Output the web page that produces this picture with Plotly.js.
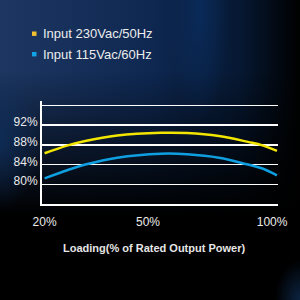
<!DOCTYPE html>
<html><head><meta charset="utf-8">
<script src="https://cdn.plot.ly/plotly-3.0.1.min.js"></script>
<style>
html,body{margin:0;padding:0;width:300px;height:300px;overflow:hidden;}
body{
 background:
  radial-gradient(ellipse 30px 110px at 200px 10px, rgba(10,45,95,0.8), rgba(10,45,95,0) 100%),
  radial-gradient(ellipse 25px 40px at 300px 300px, rgba(20,60,110,0.6), rgba(20,60,110,0) 100%),
  radial-gradient(ellipse 40px 70px at 0px 140px, rgba(15,50,100,0.7), rgba(15,50,100,0) 100%),
  linear-gradient(180deg, rgba(0,0,0,0) 0px, rgba(0,0,0,0) 70px, rgba(0,0,0,1) 215px),
  linear-gradient(90deg, #1d3762 0px, #0e2852 150px, #061832 240px, #000 300px);
}
#chart{width:300px;height:300px;}
</style></head>
<body><div id="chart"></div>
<script>
const seriesNames = ['Input 230Vac/50Hz', 'Input 115Vac/60Hz'];
const seriesColors = ['#f2e600', '#0f9fe0'];
const legendColors = ['#f2c12e', '#12a3e6'];
const loadPct = [20, 28, 34, 45, 60, 69, 80, 90, 95, 100];
const eff230 = [86.3, 87.9, 88.8, 89.9, 90.45, 90.4, 89.8, 88.6, 87.9, 86.8];
const eff115 = [81.2, 82.9, 84.0, 85.4, 86.2, 86.1, 85.4, 84.0, 83.2, 81.8];
const yTickVals = [80, 84, 88, 92, 96];
const yTickText = ['80%', '84%', '88%', '92%', ''];
const xTickText = ['20%', '50%', '100%'];
const xTitle = 'Loading(% of Rated Output Power)';

const effs = [eff230, eff115];
const traces = effs.map((e, i) => ({
  x: loadPct, y: e, type: 'scatter', mode: 'lines', name: seriesNames[i],
  line: {color: seriesColors[i], width: 2.5, shape: 'spline', smoothing: 1.1},
  showlegend: false, hoverinfo: 'none'
}));

const annotations = seriesNames.map((n, i) => ({
  text: n, xref: 'paper', yref: 'paper', x: (40.5 - 42) / 236, y: (204 - (33.7 + i * 20.5)) / 103,
  xanchor: 'left', yanchor: 'middle', showarrow: false,
  font: {family: 'Liberation Sans, Arial', size: 13, color: '#ececec'}
}));
annotations.push({
  text: xTitle, xref: 'paper', yref: 'paper', x: (154 - 42) / 236, y: (204 - 247.7) / 103,
  xanchor: 'center', yanchor: 'middle', showarrow: false,
  font: {family: 'Liberation Sans, Arial', size: 11, color: '#e6e6e6', weight: 'bold'}
});
const shapes = legendColors.map((c, i) => ({
  type: 'rect', xref: 'paper', yref: 'paper',
  x0: (32 - 42) / 236, x1: (36.5 - 42) / 236,
  y0: (204 - (33.7 + i * 20.5) - 2.2) / 103, y1: (204 - (33.7 + i * 20.5) + 2.2) / 103,
  fillcolor: c, line: {width: 0}
}));

const layout = {
  width: 300, height: 300,
  margin: {l: 42, r: 22, t: 101, b: 96},
  paper_bgcolor: 'rgba(0,0,0,0)', plot_bgcolor: 'rgba(0,0,0,0)',
  showlegend: false,
  xaxis: {
    range: [19.1, 100.35], tickvals: [20, 55.6, 98.3], ticktext: xTickText,
    showgrid: false, zeroline: false, showline: true, linecolor: '#ffffff', linewidth: 2,
    ticks: '', ticklen: 0, ticklabelstandoff: 6,
    tickfont: {family: 'Liberation Sans, Arial', size: 12, color: '#ececec'},
    fixedrange: true
  },
  yaxis: {
    range: [76, 96.9], tickvals: yTickVals, ticktext: yTickText,
    showgrid: true, gridcolor: '#ffffff', gridwidth: 1.5, zeroline: false,
    showline: true, linecolor: '#ffffff', linewidth: 2, ticks: '', ticklabelshift: -3,
    tickfont: {family: 'Liberation Sans, Arial', size: 12, color: '#ececec'},
    fixedrange: true
  },
  annotations: annotations, shapes: shapes
};
Plotly.newPlot('chart', traces, layout, {staticPlot: true, displayModeBar: false});
</script></body></html>
